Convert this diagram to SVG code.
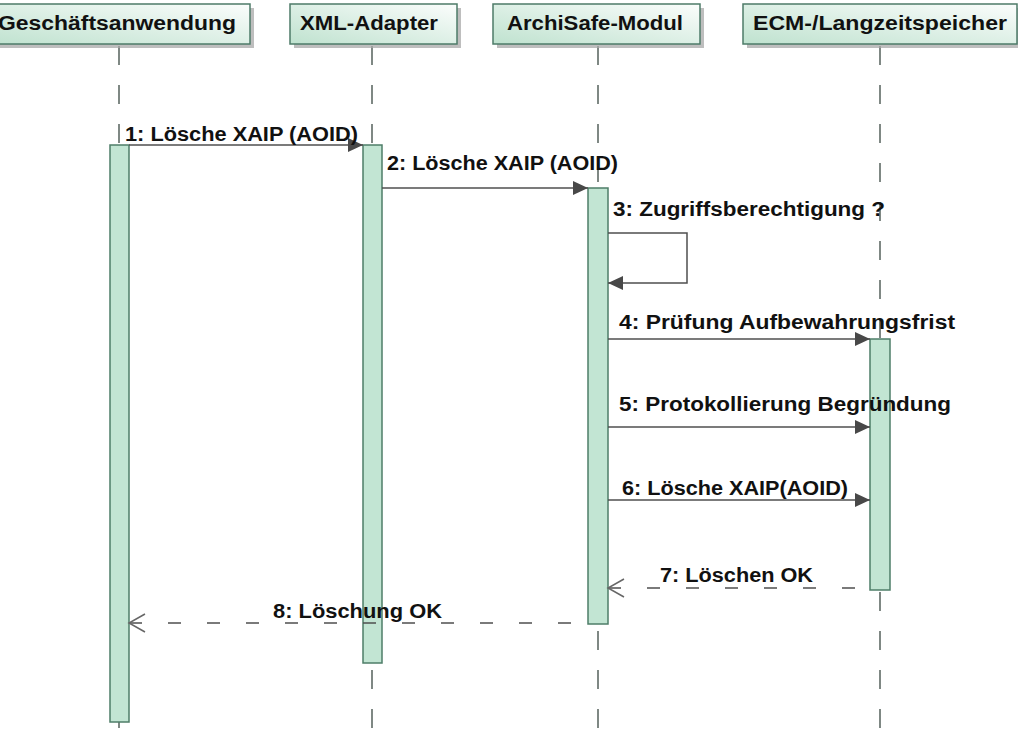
<svg xmlns="http://www.w3.org/2000/svg" width="1018" height="737" viewBox="0 0 1018 737">
<style>
.hdr{stroke:#4d7b68;stroke-width:1.5;fill:url(#hg)}
.shd{fill:#a8a8a8;opacity:0.75}
.life{stroke:#56625c;stroke-width:1.5;stroke-dasharray:19 20;fill:none}
.bar{fill:#c2e5d3;stroke:#4e7d68;stroke-width:1.5}
.t{font-family:"Liberation Sans",Arial,sans-serif;font-weight:bold;font-size:20px;fill:#111}
.msg{stroke:#4f4f4f;stroke-width:1.5;fill:none}
.sync{marker-end:url(#fa)}
.ret{stroke-dasharray:13 26;marker-start:url(#oa)}
</style>
<defs>
<linearGradient id="hg" x1="0" y1="1" x2="1" y2="0">
<stop offset="0" stop-color="#bfe2cf"/>
<stop offset="1" stop-color="#fbfdfc"/>
</linearGradient>
<marker id="fa" markerUnits="userSpaceOnUse" markerWidth="16" markerHeight="16" refX="15" refY="7" orient="auto">
<path d="M0,0 L15,7 L0,14 Z" fill="#484848"/>
</marker>
<marker id="oa" markerUnits="userSpaceOnUse" markerWidth="18" markerHeight="20" refX="1" refY="9" orient="auto-start-reverse" overflow="visible">
<path d="M-15,0 L1,9 L-15,18" fill="none" stroke="#666" stroke-width="1.5"/>
</marker>
</defs>
<rect width="1018" height="737" fill="#ffffff"/>

<g id="lifelines">
<line class="life" x1="119" y1="46" x2="119" y2="737"/>
<line class="life" x1="372" y1="46" x2="372" y2="737"/>
<line class="life" x1="598" y1="46" x2="598" y2="737"/>
<line class="life" x1="880" y1="46" x2="880" y2="737"/>
</g>

<g id="node-geschaeftsanwendung">
<rect class="shd" x="-8" y="8" width="262" height="40"/>
<rect class="hdr" x="-12" y="4" width="262" height="40"/>
<text class="t" x="-2" y="30" textLength="238" lengthAdjust="spacingAndGlyphs">Geschäftsanwendung</text>
<rect class="bar" x="110" y="145" width="19" height="577"/>
</g>

<g id="node-xml-adapter">
<rect class="shd" x="294" y="8" width="167" height="40"/>
<rect class="hdr" x="290" y="4" width="167" height="40"/>
<text class="t" x="300" y="30" textLength="138" lengthAdjust="spacingAndGlyphs">XML-Adapter</text>
<rect class="bar" x="363" y="145" width="19" height="518"/>
</g>

<g id="node-archisafe">
<rect class="shd" x="497" y="8" width="207" height="40"/>
<rect class="hdr" x="493" y="4" width="207" height="40"/>
<text class="t" x="507" y="30" textLength="176" lengthAdjust="spacingAndGlyphs">ArchiSafe-Modul</text>
<rect class="bar" x="588" y="188" width="20" height="436"/>
</g>

<g id="node-ecm">
<rect class="shd" x="747" y="8" width="274" height="40"/>
<rect class="hdr" x="743" y="4" width="274" height="40"/>
<text class="t" x="753" y="30" textLength="254" lengthAdjust="spacingAndGlyphs">ECM-/Langzeitspeicher</text>
<rect class="bar" x="870" y="339" width="20" height="251"/>
</g>

<g id="connectors">
<line class="msg sync" x1="129" y1="145" x2="363" y2="145"/>
<line class="msg sync" x1="382" y1="188" x2="588" y2="188"/>
<path class="msg sync" d="M608,233 H687 V283 H608"/>
<line class="msg sync" x1="608" y1="339" x2="870" y2="339"/>
<line class="msg sync" x1="608" y1="427" x2="870" y2="427"/>
<line class="msg sync" x1="608" y1="500" x2="870" y2="500"/>
<path class="msg ret" d="M608,588 H870"/>
<path class="msg ret" d="M129,623 H588"/>
</g>

<g id="labels">
<text class="t" x="125" y="141" textLength="233" lengthAdjust="spacingAndGlyphs">1: Lösche XAIP (AOID)</text>
<text class="t" x="387" y="170" textLength="231" lengthAdjust="spacingAndGlyphs">2: Lösche XAIP (AOID)</text>
<text class="t" x="613" y="216" textLength="272" lengthAdjust="spacingAndGlyphs">3: Zugriffsberechtigung ?</text>
<text class="t" x="619" y="329" textLength="336" lengthAdjust="spacingAndGlyphs">4: Prüfung Aufbewahrungsfrist</text>
<text class="t" x="619" y="411" textLength="332" lengthAdjust="spacingAndGlyphs">5: Protokollierung Begründung</text>
<text class="t" x="622" y="495" textLength="226" lengthAdjust="spacingAndGlyphs">6: Lösche XAIP(AOID)</text>
<text class="t" x="660" y="582" textLength="153" lengthAdjust="spacingAndGlyphs">7: Löschen OK</text>
<text class="t" x="273" y="618" textLength="169" lengthAdjust="spacingAndGlyphs">8: Löschung OK</text>
</g>
</svg>
